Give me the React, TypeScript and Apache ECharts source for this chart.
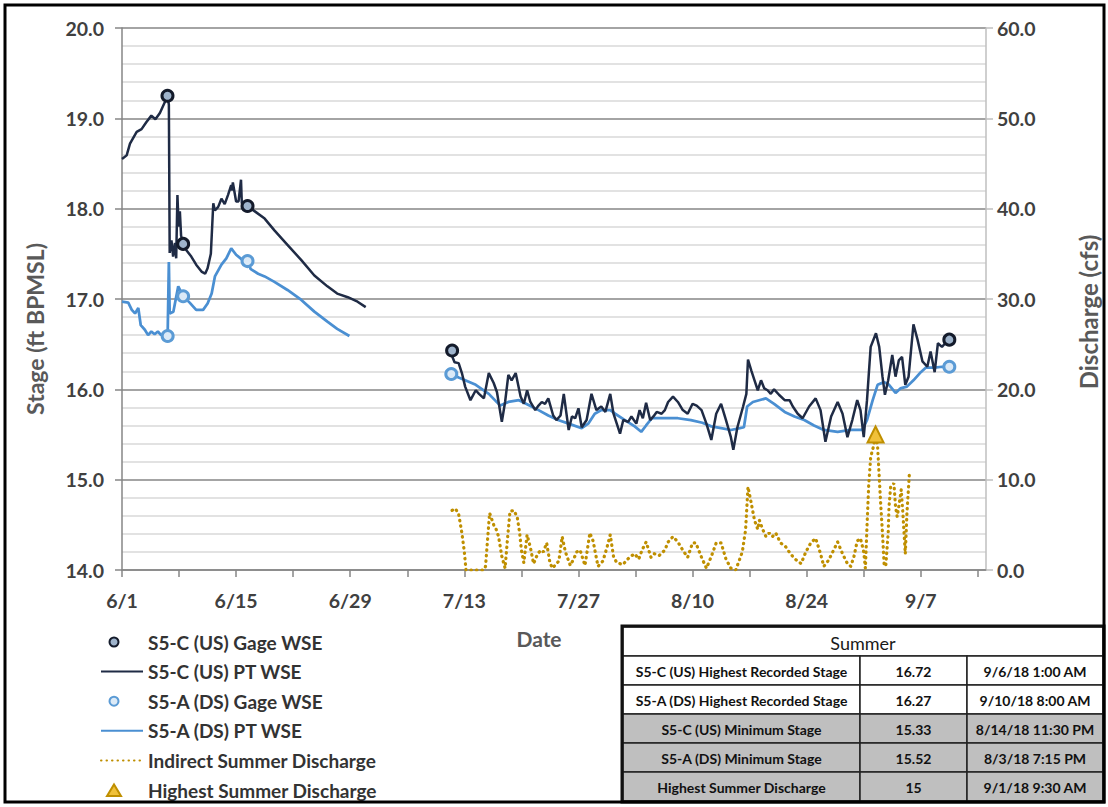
import React, { useEffect, useRef } from 'react';
import * as echarts from 'echarts';

// ---------- data (x = days after 6/1/2018) ----------
const START_UTC = Date.UTC(2018, 5, 1);

const usPtSeg1: [number, number][] = [
  [0, 18.55], [0.57, 18.59], [0.98, 18.72], [1.8, 18.85], [2.4, 18.88], [3.0, 18.96], [3.6, 19.03], [4.1, 18.99],
  [4.65, 19.06], [5.26, 19.18], [5.58, 19.25], [5.75, 19.15], [5.85, 17.51], [6.07, 17.65], [6.27, 17.47], [6.5, 17.62],
  [6.65, 17.45], [6.8, 18.15], [6.95, 17.8], [7.1, 17.97], [7.25, 17.7], [7.5, 17.62], [7.9, 17.54], [8.5, 17.47],
  [9.1, 17.38], [9.8, 17.3], [10.2, 17.28], [10.5, 17.34], [10.9, 17.5], [11.2, 18.06], [11.4, 17.98], [11.8, 18.02],
  [12.2, 18.11], [12.6, 18.05], [13.0, 18.15], [13.4, 18.26], [13.5, 18.2], [13.6, 18.29], [14.0, 18.08], [14.3, 18.08],
  [14.6, 18.32], [14.7, 18.06], [15.4, 18.03], [16.3, 17.97], [17.5, 17.89], [18.7, 17.76], [20.3, 17.6], [22, 17.43],
  [23.6, 17.26], [25.2, 17.14], [26.4, 17.06], [27.7, 17.02], [28.9, 16.97], [29.9, 16.91],
];

const usPtSeg2: [number, number][] = [
  [40.4, 16.39], [40.8, 16.3], [41.3, 16.29], [41.7, 16.18], [42.1, 16.03], [42.75, 15.88], [43.4, 15.99], [43.8, 15.95],
  [44.4, 15.9], [45.0, 16.18], [45.6, 16.07], [46.0, 15.97], [46.6, 15.64], [47.0, 15.86], [47.4, 16.16], [47.8, 16.1],
  [48.3, 16.18], [48.9, 15.92], [49.3, 15.84], [49.7, 15.99], [50.1, 15.86], [50.7, 15.77], [51.1, 15.82], [51.5, 15.86],
  [51.9, 15.84], [52.3, 15.9], [52.9, 15.71], [53.3, 15.66], [53.8, 15.71], [54.2, 15.95], [54.8, 15.55], [55.2, 15.7],
  [55.6, 15.68], [56.0, 15.79], [56.4, 15.58], [57.0, 15.66], [57.6, 15.95], [58.2, 15.77], [58.8, 15.81], [59.3, 15.75],
  [59.9, 15.95], [60.3, 15.73], [61.1, 15.51], [61.5, 15.66], [62.1, 15.64], [62.5, 15.7], [63.1, 15.62], [63.5, 15.77],
  [63.9, 15.68], [64.3, 15.85], [64.8, 15.66], [65.2, 15.7], [65.6, 15.75], [66.2, 15.73], [66.6, 15.77], [67.0, 15.86],
  [67.6, 15.92], [68.2, 15.86], [68.8, 15.77], [69.4, 15.73], [70.0, 15.84], [70.5, 15.82], [71.1, 15.77], [71.7, 15.62],
  [72.3, 15.44], [72.9, 15.73], [73.5, 15.84], [74.1, 15.66], [74.7, 15.47], [75.0, 15.33], [75.5, 15.58], [76.2, 15.81],
  [76.6, 15.95], [76.8, 16.33], [77.2, 16.21], [77.6, 16.1], [78.0, 15.99], [78.4, 16.1], [78.8, 16.01], [79.2, 15.99],
  [79.6, 15.95], [80.0, 16.0], [80.6, 15.94], [81.3, 15.88], [81.9, 15.88], [82.3, 15.81], [82.9, 15.73], [83.5, 15.68],
  [84.3, 15.81], [85.1, 15.9], [85.7, 15.77], [86.3, 15.42], [87.0, 15.7], [87.8, 15.86], [88.4, 15.73], [89.0, 15.47],
  [89.6, 15.66], [90.2, 15.88], [90.6, 15.77], [91.0, 15.47], [91.4, 15.88], [91.85, 16.47], [92.5, 16.62], [92.9, 16.47],
  [93.3, 16.14], [93.6, 15.94], [94.0, 16.1], [94.5, 16.38], [94.9, 16.14], [95.3, 16.32], [95.7, 16.36], [96.1, 16.05],
  [96.5, 16.14], [97.1, 16.72], [97.6, 16.55], [98.2, 16.31], [98.8, 16.25], [99.2, 16.42], [99.7, 16.19], [100.1, 16.51],
  [100.6, 16.47], [101.0, 16.51], [101.5, 16.55],
];

const dsPtSeg1: [number, number][] = [
  [0, 16.97], [0.77, 16.96], [1.2, 16.88], [1.6, 16.84], [2.0, 16.9], [2.3, 16.71], [2.8, 16.66], [3.2, 16.6],
  [3.6, 16.64], [4.0, 16.61], [4.4, 16.64], [4.8, 16.6], [5.2, 16.62], [5.6, 16.59], [5.75, 17.41], [5.85, 16.84],
  [6.3, 16.86], [6.9, 17.14], [7.5, 17.03], [8.3, 16.96], [9.1, 16.88], [9.95, 16.88], [10.5, 16.95], [11.0, 17.06],
  [11.4, 17.25], [12.2, 17.38], [12.8, 17.45], [13.4, 17.56], [14.0, 17.49], [14.8, 17.43], [15.4, 17.42], [15.8, 17.33],
  [16.7, 17.28], [17.5, 17.25], [18.7, 17.19], [20.3, 17.1], [22, 16.99], [23.6, 16.86], [25.2, 16.75], [26.4, 16.67],
  [27.9, 16.59],
];

const dsPtSeg2: [number, number][] = [
  [40.4, 16.17], [41.3, 16.13], [42.1, 16.1], [43.4, 16.05], [45.0, 15.95], [46.4, 15.82], [47.4, 15.86], [48.7, 15.88],
  [50.0, 15.82], [51.1, 15.77], [52.3, 15.71], [53.5, 15.66], [54.8, 15.62], [56.4, 15.57], [57.2, 15.62], [58.0, 15.73],
  [58.8, 15.77], [59.9, 15.77], [60.5, 15.73], [61.7, 15.66], [62.9, 15.59], [63.7, 15.53], [64.3, 15.6], [65.0, 15.68],
  [66.6, 15.68], [68.2, 15.68], [69.8, 15.66], [71.2, 15.63], [72.3, 15.59], [73.5, 15.57], [74.7, 15.55], [75.8, 15.57],
  [76.3, 15.58], [76.7, 15.81], [77.4, 15.86], [79.0, 15.9], [80.0, 15.84], [81.3, 15.75], [82.5, 15.7], [83.7, 15.66],
  [84.9, 15.6], [86.1, 15.55], [87.8, 15.53], [89.4, 15.55], [90.8, 15.55], [91.4, 15.66], [92.1, 15.88], [92.7, 16.05],
  [93.5, 16.08], [94.1, 16.05], [94.9, 15.96], [95.5, 16.01], [96.3, 16.03], [97.1, 16.1], [98.0, 16.19], [98.6, 16.24],
  [99.7, 16.24], [100.6, 16.25], [101.5, 16.25],
];

const usGage: [number, number][] = [[5.58, 19.25], [7.5, 17.61], [15.4, 18.03], [40.5, 16.43], [101.5, 16.55]];
const dsGage: [number, number][] = [[5.6, 16.59], [7.5, 17.03], [15.4, 17.42], [40.4, 16.17], [101.5, 16.25]];

const discharge: [number, number][] = [
  [40.5, 6.6], [40.9, 6.8], [41.3, 6.2], [41.7, 4.1], [42.0, 2.0], [42.2, 0], [44.4, 0], [44.6, 0.4], [45.1, 6.3],
  [45.6, 5.0], [45.9, 4.5], [46.2, 3.7], [46.6, 1.5], [47.0, 0.2], [47.3, 3.5], [47.6, 6.5], [48.1, 6.6], [48.5, 5.8],
  [48.8, 4.0], [49.0, 2.2], [49.3, 0.8], [49.7, 3.9], [50.1, 2.5], [50.5, 0.7], [51.0, 1.8], [51.4, 2.2], [51.7, 2.0],
  [52.1, 3.0], [52.5, 0.8], [52.8, 0.2], [53.6, 1.0], [54.0, 3.7], [54.4, 2.0], [55.0, 0.5], [55.4, 1.2], [55.8, 2.0],
  [56.2, 2.2], [56.8, 0.5], [57.4, 4.1], [57.8, 3.2], [58.4, 0.4], [59.0, 1.0], [59.5, 2.5], [59.9, 3.9], [60.3, 1.5],
  [60.7, 0.8], [61.5, 0.6], [61.8, 1.0], [62.4, 1.5], [62.9, 1.8], [63.4, 1.2], [63.8, 2.2], [64.3, 3.1], [64.9, 1.4],
  [65.3, 1.8], [65.9, 1.6], [66.6, 2.2], [67.0, 3.1], [67.6, 3.7], [68.2, 3.1], [68.8, 2.2], [69.4, 1.4], [70.0, 3.0],
  [70.4, 3.0], [71.1, 1.4], [71.7, 0.2], [72.3, 1.5], [72.9, 3.0], [73.5, 3.0], [74.1, 1.2], [74.7, 0.2], [75.3, 0],
  [75.7, 1.0], [76.1, 2.0], [76.5, 4.4], [76.8, 9.2], [77.2, 7.4], [77.6, 5.5], [78.0, 4.5], [78.2, 5.5], [78.6, 4.5],
  [79.0, 3.7], [79.4, 4.1], [79.8, 3.7], [80.2, 4.1], [80.8, 3.0], [81.4, 2.6], [82.0, 1.8], [82.6, 1.2], [83.3, 0.7],
  [83.9, 2.0], [84.5, 3.0], [85.1, 3.5], [85.7, 1.8], [86.1, 0.4], [86.7, 1.1], [87.3, 2.2], [87.8, 3.1], [88.4, 1.8],
  [89.0, 0.7], [89.4, 0.4], [89.8, 1.5], [90.2, 3.2], [90.6, 3.5], [91.0, 2.0], [91.2, 0.2], [91.4, 4.8], [91.6, 9.2],
  [91.85, 12.5], [92.2, 13.7], [92.45, 15.0], [92.7, 13.7], [92.9, 10.3], [93.1, 7.0], [93.3, 4.1], [93.5, 0.7],
  [93.7, 0.4], [94.0, 4.1], [94.1, 7.0], [94.3, 9.2], [94.7, 9.6], [94.9, 7.0], [95.1, 5.9], [95.3, 7.0], [95.6, 8.9],
  [95.8, 6.3], [96.1, 1.8], [96.3, 6.3], [96.6, 10.7],
];

const highestDischarge: [number, number][] = [[92.45, 15.0]];

const legendNames = [
  'S5-C (US) Gage WSE', 'S5-C (US) PT WSE', 'S5-A (DS) Gage WSE', 'S5-A (DS) PT WSE',
  'Indirect Summer Discharge', 'Highest Summer Discharge',
];
const lineLegendNames = ['S5-C (US) PT WSE', 'S5-A (DS) PT WSE', 'Indirect Summer Discharge'];

const tableHeader = 'Summer';
const tableLabels = [
  'S5-C (US) Highest Recorded Stage',
  'S5-A (DS) Highest Recorded Stage',
  'S5-C (US) Minimum Stage',
  'S5-A (DS) Minimum Stage',
  'Highest Summer Discharge',
];
const tableValues = ['16.72', '16.27', '15.33', '15.52', '15'];
const tableDates = ['9/6/18 1:00 AM', '9/10/18 8:00 AM', '8/14/18 11:30 PM', '8/3/18 7:15 PM', '9/1/18 9:30 AM'];
const tableShaded = [false, false, true, true, true];

// ---------- helpers ----------
const GAP_DAY = 35;
const joinSegments = (a: [number, number][], b: [number, number][]) => [...a, [GAP_DAY, null], ...b];

const dayLabel = (v: number) => {
  const r = Math.round(v);
  if (Math.abs(v - r) > 1e-6 || r % 14 !== 0) return '';
  const d = new Date(START_UTC + r * 86400000);
  return `${d.getUTCMonth() + 1}/${d.getUTCDate()}`;
};

const FONT = 'Lato, "Noto Sans", sans-serif';
const TXT = '#404040';

// legend icons drawn inside a 42x12 box (the leading moves fix the box), symbol sits near the left
const ICON_CIRCLE = 'path://M0,0M42,12M8.5,6A4.5,4.5,0,1,1,17.5,6A4.5,4.5,0,1,1,8.5,6Z';
const ICON_TRIANGLE = 'path://M0,0M42,12M6,12L13,0.5L20,12Z';

function buildTable() {
  const x0 = 623;
  const y0 = 627;
  const colW = [237, 107, 136];
  const rowH = 29;
  const totalW = colW[0] + colW[1] + colW[2];
  const els: any[] = [];
  els.push({ type: 'rect', shape: { x: x0, y: y0, width: totalW, height: rowH }, style: { fill: '#fff', stroke: '#222', lineWidth: 1.5 } });
  els.push({
    type: 'text', x: x0 + totalW / 2, y: y0 + rowH / 2 + 1,
    style: { text: tableHeader, fontSize: 18, fontFamily: FONT, fill: '#1a1a1a', align: 'center', verticalAlign: 'middle' },
  });
  tableLabels.forEach((lab, i) => {
    const y = y0 + rowH * (i + 1);
    const fill = tableShaded[i] ? '#BFBFBF' : '#fff';
    const cells = [lab, tableValues[i], tableDates[i]];
    let cx = x0;
    cells.forEach((t, j) => {
      els.push({ type: 'rect', shape: { x: cx, y, width: colW[j], height: rowH }, style: { fill, stroke: '#222', lineWidth: 1.5 } });
      els.push({
        type: 'text', x: cx + colW[j] / 2, y: y + rowH / 2 + 1,
        style: {
          text: t, fontSize: 14, fontWeight: 'bold', fontFamily: FONT, fill: '#111',
          align: 'center', verticalAlign: 'middle',
        },
      });
      cx += colW[j];
    });
  });
  els.push({ type: 'rect', shape: { x: x0 - 1, y: y0 - 1, width: totalW + 2, height: rowH * 6 + 2 }, style: { fill: 'none', stroke: '#111', lineWidth: 3 } });
  return els;
}

export default function App() {
  const ref = useRef<HTMLDivElement>(null);
  useEffect(() => {
    document.body.style.margin = '0';
    const chart = echarts.init(ref.current as HTMLDivElement, null, { renderer: 'svg' });
    const axisLabelStyle = { fontSize: 19.5, fontWeight: 'bold' as const, color: TXT, fontFamily: FONT };
    const nameStyle = { fontSize: 23, fontWeight: 'bold' as const, color: '#595959', fontFamily: FONT };
    const option: any = {
      animation: false,
      backgroundColor: '#fff',
      grid: { left: 122, right: 119, top: 28, bottom: 237, containLabel: false },
      xAxis: {
        type: 'value', min: 0, max: 106, interval: 7,
        name: 'Date', nameLocation: 'middle', nameGap: 58,
        nameTextStyle: { ...nameStyle, fontSize: 21, padding: [0, 30, 0, 0] },
        axisLine: { show: true, onZero: false, lineStyle: { color: '#868686', width: 1.5 } },
        axisTick: { show: true, length: 7, lineStyle: { color: '#868686', width: 1.5 } },
        axisLabel: { ...axisLabelStyle, margin: 20, formatter: dayLabel, showMinLabel: true, showMaxLabel: false },
        splitLine: { show: false },
      },
      yAxis: [
        {
          type: 'value', min: 14, max: 20, interval: 1, position: 'left',
          name: 'Stage (ft BPMSL)', nameLocation: 'middle', nameGap: 76, nameRotate: 90,
          nameTextStyle: { ...nameStyle, padding: [0, 60, 0, 0] },
          axisLine: { show: true, lineStyle: { color: '#868686', width: 1.5 } },
          axisTick: { show: true, length: 7, lineStyle: { color: '#868686', width: 1.5 } },
          axisLabel: { ...axisLabelStyle, margin: 18, formatter: (v: number) => v.toFixed(1) },
          splitLine: { show: true, lineStyle: { color: '#868686', width: 1.5 } },
          minorTick: { show: false, splitNumber: 5 },
          minorSplitLine: { show: true, lineStyle: { color: '#D9D9D9', width: 1.5 } },
        },
        {
          type: 'value', min: 0, max: 60, interval: 10, position: 'right',
          name: 'Discharge (cfs)', nameLocation: 'middle', nameGap: 90, nameRotate: 90,
          nameTextStyle: { ...nameStyle, fontSize: 24, padding: [0, 26, 0, 0] },
          axisLine: { show: true, lineStyle: { color: '#BFBFBF', width: 1.5 } },
          axisTick: { show: true, length: 7, lineStyle: { color: '#BFBFBF', width: 1.5 } },
          axisLabel: { ...axisLabelStyle, margin: 11, formatter: (v: number) => v.toFixed(1) },
          splitLine: { show: false },
        },
      ],
      legend: {
        orient: 'vertical', left: 100, top: 632, padding: 0, itemGap: 9.6, itemWidth: 42, itemHeight: 12,
        height: 175,
        textStyle: { fontSize: 19, fontWeight: 'bold', color: '#333', fontFamily: FONT, lineHeight: 20 },
        data: legendNames.map((n) => {
          if (lineLegendNames.indexOf(n) >= 0) return { name: n, itemStyle: { opacity: 0 } };
          if (n === 'Highest Summer Discharge') return { name: n, icon: ICON_TRIANGLE };
          return { name: n, icon: ICON_CIRCLE };
        }),
      },
      series: [
        {
          name: 'S5-A (DS) PT WSE', type: 'line', data: joinSegments(dsPtSeg1, dsPtSeg2), symbol: 'none',
          connectNulls: false, lineStyle: { color: '#4A8FD2', width: 2.75 }, itemStyle: { color: '#4A8FD2' }, z: 2,
        },
        {
          name: 'S5-C (US) PT WSE', type: 'line', data: joinSegments(usPtSeg1, usPtSeg2), symbol: 'none',
          connectNulls: false, lineStyle: { color: '#1F2B45', width: 2.5 }, itemStyle: { color: '#1F2B45' }, z: 3,
        },
        {
          name: 'Indirect Summer Discharge', type: 'line', yAxisIndex: 1, data: discharge, symbol: 'none',
          lineStyle: { color: '#BF8F00', width: 3.2, type: [0.5, 5], cap: 'round' }, itemStyle: { color: '#BF8F00' }, z: 3,
        },
        {
          name: 'S5-A (DS) Gage WSE', type: 'scatter', data: dsGage, symbol: 'circle', symbolSize: 11,
          itemStyle: { color: '#DCEAF7', borderColor: '#5B9BD5', borderWidth: 3, opacity: 1 }, z: 4,
        },
        {
          name: 'S5-C (US) Gage WSE', type: 'scatter', data: usGage, symbol: 'circle', symbolSize: 11,
          itemStyle: { color: '#9FB4CC', borderColor: '#141B2B', borderWidth: 3, opacity: 1 }, z: 5,
        },
        {
          name: 'Highest Summer Discharge', type: 'scatter', yAxisIndex: 1, data: highestDischarge, symbol: 'triangle',
          symbolSize: 16,
          itemStyle: { color: '#F0C13A', borderColor: '#BF8F00', borderWidth: 2, opacity: 1 }, z: 6,
        },
      ],
      graphic: [
        { type: 'rect', shape: { x: 5, y: 5, width: 1099, height: 797 }, style: { fill: 'none', stroke: '#000', lineWidth: 3 }, z: 100 },
        ...buildTable(),
      ],
    };
    chart.setOption(option);
    return () => chart.dispose();
  }, []);
  return <div ref={ref} style={{ width: 1108, height: 807, background: '#fff' }} />;
}
